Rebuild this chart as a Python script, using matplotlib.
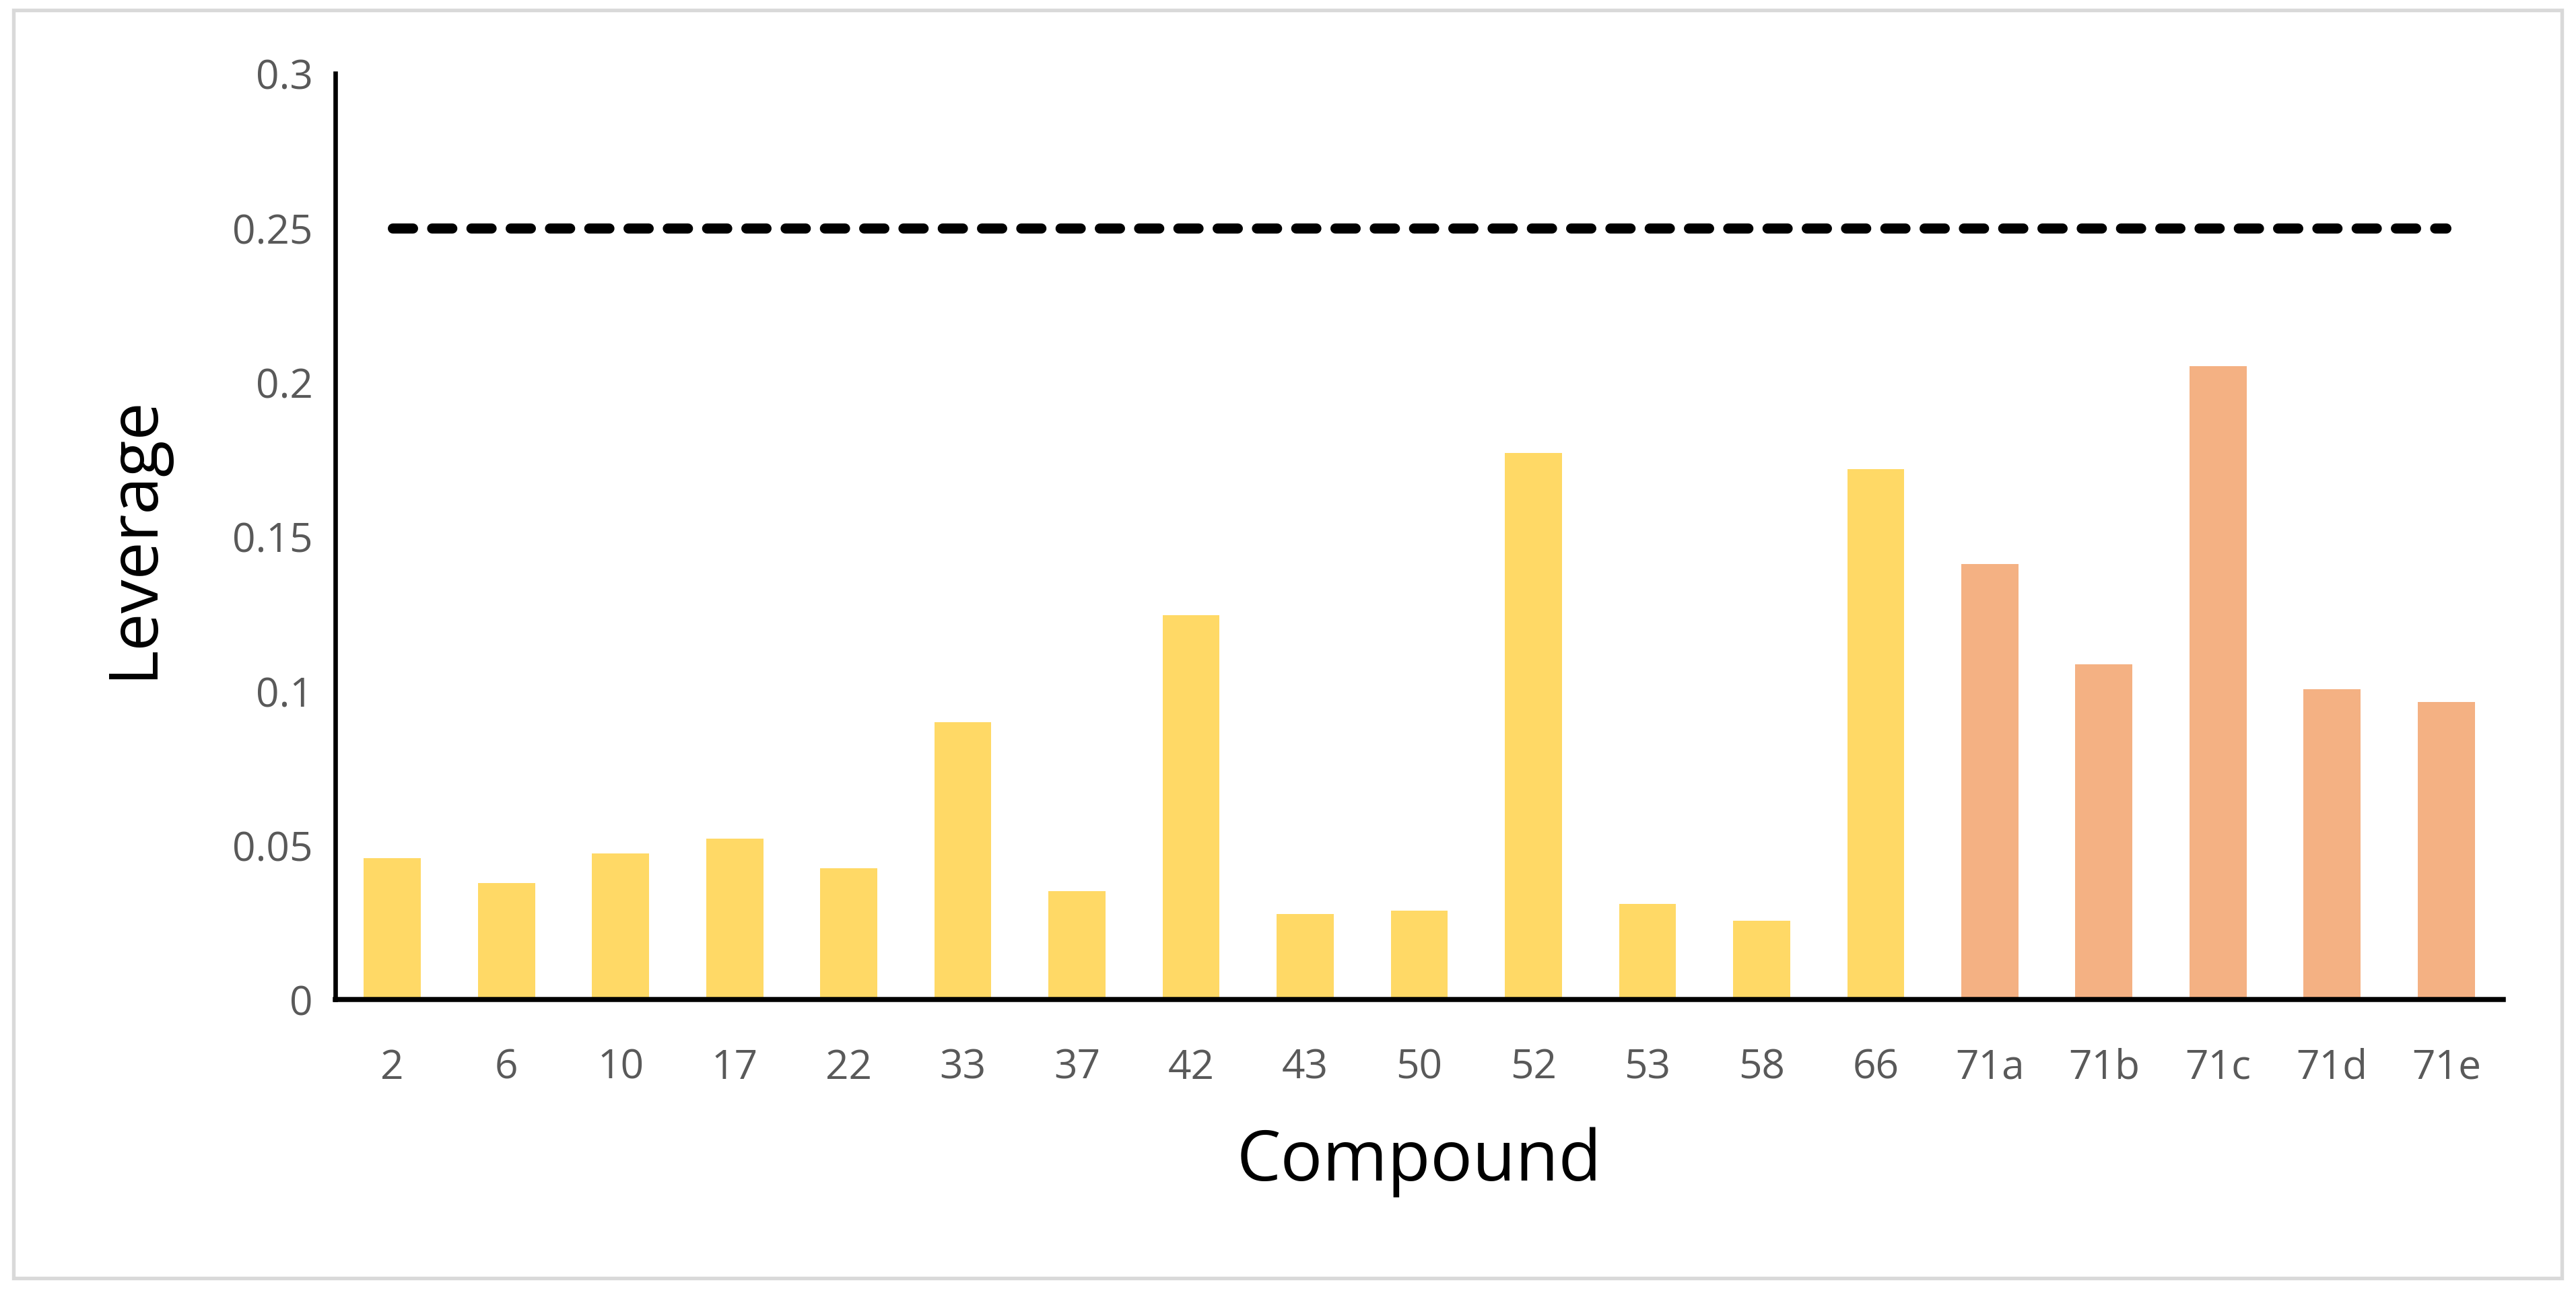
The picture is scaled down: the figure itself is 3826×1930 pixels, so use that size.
import numpy as np
import matplotlib
matplotlib.use("Agg")
import matplotlib.pyplot as plt
from matplotlib.patches import Rectangle

plt.rcParams['font.family'] = ['Open Sans', 'DejaVu Sans']
plt.rcParams['lines.scale_dashes'] = False

compounds = ['2', '6', '10', '17', '22', '33', '37', '42', '43', '50',
             '52', '53', '58', '66', '71a', '71b', '71c', '71d', '71e']
leverage = [0.0457, 0.0378, 0.0473, 0.0521, 0.0426, 0.0899, 0.0351, 0.1245,
            0.0277, 0.0287, 0.1770, 0.0309, 0.0255, 0.1718, 0.1410, 0.1085,
            0.2053, 0.1005, 0.0963]
# training set (yellow) then test set (orange)
n_train = 14
h_star = 0.25
yticks = [0, 0.05, 0.1, 0.15, 0.2, 0.25, 0.3]
ytick_labels = ['0', '0.05', '0.1', '0.15', '0.2', '0.25', '0.3']

W, H, dpi = 3826, 1931, 300
fig = plt.figure(figsize=(W / dpi, (H - 0.3) / dpi), dpi=dpi)
fig.patch.set_facecolor('white')

# light grey frame around the whole chart
fig.patches.append(Rectangle((20 / W, 1 - 1900 / H), (3805 - 20) / W, (1900 - 16) / H,
                             transform=fig.transFigure, fill=False,
                             edgecolor='#D9D9D9', linewidth=1.3))

ax = fig.add_axes([498 / W, 1 - 1486 / H, (3718 - 498) / W, (1486 - 110) / H])

x = np.arange(len(compounds))
colors = ['#FFD966'] * n_train + ['#F4B183'] * (len(compounds) - n_train)
ax.bar(x, leverage, width=0.5, color=colors, zorder=2)

ax.plot([x[0], x[-1]], [h_star, h_star], color='black', linewidth=3.6,
        dashes=(7.2, 6.8), dash_capstyle='round', zorder=3)

ax.set_xlim(-0.5, len(compounds) - 0.5)
ax.set_ylim(0, 0.3)
ax.set_xticks(x)
ax.set_xticklabels(compounds)
ax.set_yticks(yticks)
ax.set_yticklabels(ytick_labels)
ax.tick_params(axis='both', length=0, labelsize=14.5, colors='#595959')
ax.tick_params(axis='x', pad=17)
ax.tick_params(axis='y', pad=8)

for s in ['top', 'right']:
    ax.spines[s].set_visible(False)
ax.spines['left'].set_linewidth(1.6)
ax.spines['bottom'].set_linewidth(1.8)
ax.spines['left'].set_color('black')
ax.spines['bottom'].set_color('black')

ax.set_xlabel('Compound', fontsize=25, color='black', labelpad=14)
ax.set_ylabel('Leverage', fontsize=24, color='black', labelpad=23)

fig.savefig('out.png', dpi=dpi)
